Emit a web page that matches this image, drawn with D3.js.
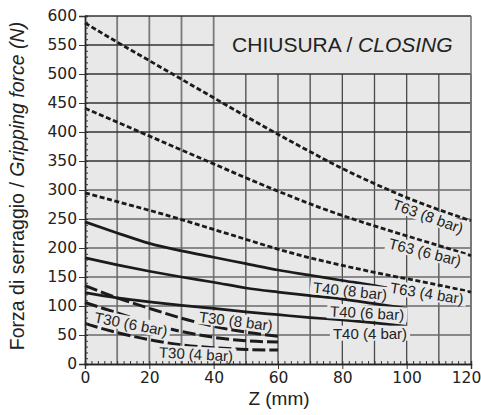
<!DOCTYPE html>
<html>
<head>
<meta charset="utf-8">
<script src="https://cdn.jsdelivr.net/npm/d3@7"></script>
<style>
  html, body { margin: 0; padding: 0; background: #fff; }
  svg { display: block; }
  text { font-family: "Liberation Sans", Arial, sans-serif; fill: #222; }
  .tick text { font-family: "DejaVu Sans", sans-serif; }
</style>
</head>
<body>
<div id="chart"></div>
<script>
// stroke values, x = Z (mm), y = gripping force (N)
const xT63 = [0, 10, 20, 30, 40, 50, 60, 70, 80, 90, 100, 110, 120];
const T63_8 = [588, 555, 523, 491, 459, 427, 396, 366, 337, 311, 287, 266, 247];
const T63_6 = [441, 417, 393, 369, 345, 321, 298, 276, 256, 238, 221, 204, 187];
const T63_4 = [295, 280, 265, 249, 232, 215, 198, 183, 170, 158, 147, 136, 124];

const xT40_8 = [0, 10, 20, 30, 40, 50, 60, 70, 80, 90, 94];
const xT40 = [0, 10, 20, 30, 40, 50, 60, 70, 80, 90, 100];
const T40_8 = [245, 226, 208, 195, 184, 173, 162, 153, 144, 135, 131];
const T40_6 = [183, 171, 160, 150, 141, 131, 124, 118, 112, 104, 96];
const T40_4 = [123, 114, 107, 101, 96, 90, 85, 80, 76, 71, 65];

const xT30 = [0, 10, 20, 30, 40, 50, 60];
const T30_8 = [135, 114, 96, 79, 65, 55, 48];
const T30_6 = [106, 88, 70, 56, 46, 40, 38];
const T30_4 = [70, 54, 42, 33, 28, 25, 24];

const xTicks = [0, 20, 40, 60, 80, 100, 120];
const yTicks = [0, 50, 100, 150, 200, 250, 300, 350, 400, 450, 500, 550, 600];

const W = 481, H = 415;
const margin = {top: 16, right: 10, bottom: 51, left: 85};

const x = d3.scaleLinear().domain([0, 120]).range([margin.left, W - margin.right]);
const y = d3.scaleLinear().domain([0, 600]).range([H - margin.bottom, margin.top]);

const svg = d3.select("#chart").append("svg")
  .attr("width", W).attr("height", H);

// plot background
svg.append("rect")
  .attr("x", x(0)).attr("y", y(600))
  .attr("width", x(120) - x(0)).attr("height", y(0) - y(600))
  .attr("fill", "#e7e8e7");

// grid - no lines inside the title box (x 40..120, y 500..600)
const grid = svg.append("g");
grid.selectAll(".vg").data(d3.range(10, 121, 10)).enter().append("line")
  .attr("x1", d => x(d)).attr("x2", d => x(d))
  .attr("y1", y(0)).attr("y2", d => d > 40 ? y(500) : y(600))
  .attr("stroke", d => d < 50 ? "#7a7a7a" : "#4a4a4a")
  .attr("stroke-width", d => d < 50 ? 1.8 : 1.3);
grid.selectAll(".hg").data(d3.range(50, 601, 50)).enter().append("line")
  .attr("x1", x(0)).attr("x2", d => d == 550 ? x(40) : x(120))
  .attr("y1", d => y(d)).attr("y2", d => y(d))
  .attr("stroke", d => d <= 300 ? "#6a6a6a" : "#333")
  .attr("stroke-width", 1.3);

// right border
svg.append("line")
  .attr("x1", x(120)).attr("x2", x(120)).attr("y1", y(0)).attr("y2", y(600))
  .attr("stroke", "#777").attr("stroke-width", 1.6);

// title box text
const title = svg.append("text")
  .attr("x", x(80)).attr("y", y(500) - 22)
  .attr("text-anchor", "middle")
  .style("font-size", "21px");
title.append("tspan").text("CHIUSURA / ");
title.append("tspan").style("font-style", "italic").text("CLOSING");

// curves
const line = d3.line().x(d => x(d[0])).y(d => y(d[1])).curve(d3.curveMonotoneX);
const series = [
  {xs: xT63, ys: T63_8, dash: "5,2.6", w: 2.8},
  {xs: xT63, ys: T63_6, dash: "5,2.6", w: 2.8},
  {xs: xT63, ys: T63_4, dash: "5,2.6", w: 2.8},
  {xs: xT40_8, ys: T40_8, dash: null, w: 2.7},
  {xs: xT40, ys: T40_6, dash: null, w: 2.7},
  {xs: xT40, ys: T40_4, dash: null, w: 2.7},
  {xs: xT30, ys: T30_8, dash: "13,4", w: 3},
  {xs: xT30, ys: T30_6, dash: "13,4", w: 3},
  {xs: xT30, ys: T30_4, dash: "13,4", w: 3}
];
svg.append("g").selectAll("path").data(series).enter().append("path")
  .attr("d", s => line(s.xs.map((v, i) => [v, s.ys[i]])))
  .attr("fill", "none")
  .attr("stroke", "#1b1b1b")
  .attr("stroke-width", s => s.w)
  .attr("stroke-dasharray", s => s.dash);

// curve labels: [text, x, y (data units), angle]
const labels = [
  ["T63 (8 bar)", 106.6, 255, 20],
  ["T63 (6 bar)", 105.7, 193, 14],
  ["T63 (4 bar)", 106.3, 122, 9],
  ["T40 (8 bar)", 82.4, 126, 6],
  ["T40 (6 bar)", 87.7, 88, 3],
  ["T40 (4 bar)", 88.6, 53, 0],
  ["T30 (8 bar)", 46.9, 74, 7],
  ["T30 (6 bar)", 14.3, 69, 11],
  ["T30 (4 bar)", 34.5, 17, 3]
];
const lg = svg.append("g").selectAll("g").data(labels).enter().append("g")
  .attr("transform", d => "translate(" + x(d[1]) + "," + y(d[2]) + ") rotate(" + d[3] + ")");
lg.append("rect").attr("fill", "#e7e8e7");
lg.append("text")
  .attr("text-anchor", "middle")
  .attr("dy", "0.36em")
  .style("font-size", "15px")
  .text(d => d[0]);
lg.each(function() {
  const g = d3.select(this);
  const b = g.select("text").node().getBBox();
  g.select("rect").attr("x", b.x - 3).attr("y", b.y + 1)
    .attr("width", b.width + 6).attr("height", b.height - 2);
});

// axes
const yAxis = svg.append("g")
  .attr("class", "y axis")
  .attr("transform", "translate(" + x(0) + ",0)")
  .call(d3.axisLeft(y).tickValues(yTicks).tickSize(6).tickPadding(2));
yAxis.append("g")
  .call(d3.axisRight(y).tickValues(d3.range(0, 601, 10)).tickSize(3).tickFormat(""));

const xAxis = svg.append("g")
  .attr("class", "x axis")
  .attr("transform", "translate(0," + y(0) + ")")
  .call(d3.axisBottom(x).tickValues(xTicks).tickSize(5).tickPadding(3));
xAxis.append("g")
  .call(d3.axisTop(x).tickValues(d3.range(0, 121, 2)).tickSize(3).tickFormat(""));

svg.selectAll(".axis path.domain").attr("stroke", "#222").attr("stroke-width", 1.4);
svg.selectAll(".axis line").attr("stroke", "#333");
svg.selectAll(".axis > .tick text")
  .style("font-size", "15.5px").attr("fill", "#222");
// keep the last x label inside the window
xAxis.selectAll(".tick text").filter(d => d == 120).attr("dx", "-5");

// axis titles
svg.append("text")
  .attr("x", x(60) + 1).attr("y", 405)
  .attr("text-anchor", "middle")
  .style("font-size", "19px")
  .text("Z (mm)");

const yt = svg.append("text")
  .attr("transform", "translate(24," + 186 + ") rotate(-90)")
  .attr("text-anchor", "middle")
  .style("font-size", "19.5px");
yt.append("tspan").text("Forza di serraggio / ");
yt.append("tspan").style("font-style", "italic").text("Gripping force (N)");
</script>
</body>
</html>
